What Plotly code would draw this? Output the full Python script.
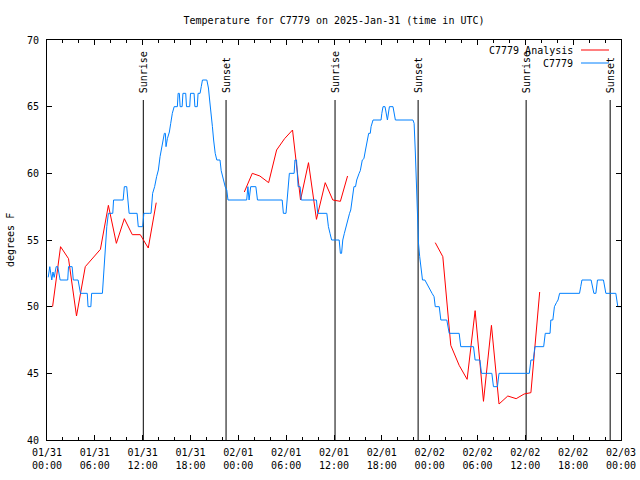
import plotly.graph_objects as go

# ---- data (hours since 2025-01-31 00:00 UTC) ----
obs_hours = [0.15, 0.35, 0.6, 0.75, 0.9, 1.15, 1.35, 1.5, 1.65, 2.6, 2.7, 3.15, 3.3, 3.9, 4.05, 4.2,
             5.05, 5.15, 5.5, 5.6, 6.95, 7.1, 7.3, 7.5, 7.7, 7.85, 8.25, 8.35, 9.55, 9.7, 10.0, 10.15,
             10.3, 11.3, 11.45, 12.0, 12.15, 12.9, 13.05, 13.25, 13.5, 13.75, 13.97, 14.18, 14.47,
             14.72, 14.85, 14.93, 15.1, 15.35, 15.52, 15.72, 15.95, 16.35, 16.45, 16.6, 16.7, 16.95,
             17.05, 17.4, 17.5, 17.9, 18.0, 18.45, 18.55, 18.85, 18.95, 19.2, 19.35, 19.5, 20.05,
             20.25, 20.4, 20.6, 20.75, 20.9, 21.1, 21.3, 21.7, 21.85, 22.1, 22.35, 22.55, 22.7,
             25.05, 25.2, 25.35, 25.55, 26.2, 26.4, 29.5, 29.65, 29.98, 30.15, 30.4, 31.0, 31.1,
             31.3, 31.5, 31.75, 31.9, 33.8, 33.95, 35.1, 35.3, 35.5, 35.7, 36.65, 36.8, 36.95, 37.1,
             37.3, 37.5, 37.7, 37.95, 38.1, 38.3, 38.5, 38.7, 38.85, 39.15, 39.3, 39.55, 39.75,
             39.95, 40.1, 40.35, 40.55, 40.65, 40.9, 41.9, 42.0, 42.15, 42.4, 42.55, 42.7, 42.85,
             42.95, 43.4, 43.55, 43.7, 45.9, 46.05, 46.2, 46.35, 46.5, 46.6, 46.75, 46.85, 46.95,
             47.1, 47.4, 47.6, 47.85, 48.05, 48.3, 48.55, 48.7, 49.2, 49.4, 50.15, 50.45, 51.7,
             51.9, 53.5, 53.7, 54.3, 54.5, 55.8, 56.0, 56.5, 56.7, 60.5, 60.7, 61.0, 61.2, 62.3,
             62.5, 63.1, 63.2, 63.45, 63.65, 63.9, 64.1, 64.3, 66.8, 66.95, 67.1, 68.25, 68.4,
             68.6, 68.85, 69.05, 69.8, 69.95, 70.1, 71.35, 71.5, 71.6, 72.0]
obs_temps = [52.2, 53.0, 52.0, 52.6, 52.2, 53.0, 53.0, 52.5, 52.0, 52.0, 53.0, 53.0, 52.0, 52.0, 51.6, 51.0,
             51.0, 50.0, 50.0, 51.0, 51.0, 52.5, 54.5, 56.0, 57.0, 57.0, 57.0, 58.0, 58.0, 59.0, 59.0, 58.0,
             57.0, 57.0, 56.0, 56.0, 57.0, 57.0, 57.0, 58.5, 59.0, 59.75, 60.25, 61.25, 62.25,
             63.0, 63.0, 62.0, 62.6, 63.1, 63.75, 64.5, 65.0, 65.0, 66.0, 66.0, 65.0, 65.0,
             66.0, 66.0, 65.0, 65.0, 66.0, 66.0, 65.0, 65.0, 66.0, 66.0, 66.5, 67.0, 67.0,
             66.4, 65.5, 64.5, 63.5, 62.5, 61.5, 61.0, 61.0, 60.2, 59.5, 59.0, 58.75, 58.0,
             58.0, 59.0, 58.0, 59.0, 59.0, 58.0, 58.0, 57.0, 57.0, 58.0, 60.0, 60.0, 61.0,
             61.0, 59.0, 59.0, 58.0, 58.0, 57.0, 57.0, 56.0, 55.5, 55.0, 55.0, 54.0, 54.0, 55.0,
             55.5, 56.0, 56.5, 57.0, 57.25, 58.0, 59.0, 59.0, 59.5, 60.0, 60.2, 61.0, 61.1,
             61.75, 62.25, 63.0, 63.0, 63.5, 64.0, 64.0, 64.5, 65.0, 65.0, 64.5, 64.0, 64.6,
             65.0, 65.0, 64.5, 64.0, 64.0, 63.75, 61.6, 58.75, 56.25, 54.75, 53.75, 53.25, 52.75,
             52.0, 52.0, 51.75, 51.5, 51.25, 51.0, 50.75, 50.0, 50.0, 49.0, 49.0, 48.0, 48.0,
             47.0, 47.0, 46.0, 46.0, 45.0, 45.0, 44.0, 44.0, 45.0, 45.0, 46.0, 46.0, 47.0, 47.0,
             48.0, 48.0, 49.0, 49.0, 50.0, 50.3, 50.5, 51.0, 51.0, 51.5, 52.0, 52.0, 51.5,
             51.0, 51.0, 52.0, 52.0, 51.5, 51.0, 51.0, 50.5, 50.0, 50.0]

ana_hours = [0.7, 1.7, 2.7, 3.7, 4.8, 5.7, 6.7, 7.7, 8.7, 9.7, 10.7, 11.7, 12.7, 13.7, None,
             24.75, 25.75, 26.7, 27.8, 28.8, 29.8, 30.8, 31.8, 32.8, 33.8, 34.9, 35.85, 36.8, 37.7, None,
             48.7, 49.65, 50.65, 51.7, 52.7, 53.7, 54.75, 55.75, 56.7, 57.8, 58.85, 59.85, 60.7, 61.8]
ana_temps = [50.0, 54.5, 53.6, 49.3, 53.0, 53.6, 54.3, 57.6, 54.75, 56.6, 55.4, 55.4, 54.4, 57.8, None,
             58.6, 60.0, 59.8, 59.3, 61.75, 62.6, 63.25, 58.0, 60.8, 56.55, 59.3, 58.0, 57.9, 59.8, None,
             54.8, 53.75, 47.1, 45.6, 44.55, 49.7, 42.9, 48.6, 42.7, 43.3, 43.1, 43.45, 43.55, 51.1]

event_hours = [12.08, 22.46, 36.13, 46.55, 60.1, 70.64]
event_labels = ["Sunrise", "Sunset", "Sunrise", "Sunset", "Sunrise", "Sunset"]

xtick_vals = [0, 6, 12, 18, 24, 30, 36, 42, 48, 54, 60, 66, 72]
xtick_text = ["01/31<br>00:00", "01/31<br>06:00", "01/31<br>12:00", "01/31<br>18:00",
              "02/01<br>00:00", "02/01<br>06:00", "02/01<br>12:00", "02/01<br>18:00",
              "02/02<br>00:00", "02/02<br>06:00", "02/02<br>12:00", "02/02<br>18:00",
              "02/03<br>00:00"]
xminor_vals = [h for h in range(0, 73, 2) if h % 6 != 0]

RED = "#ff0000"
BLUE = "#0080ff"
FONT = "DejaVu Sans Mono"

fig = go.Figure()
fig.add_trace(go.Scatter(x=ana_hours, y=ana_temps, mode="lines", name="C7779 Analysis",
                         line=dict(color=RED, width=1), connectgaps=False))
fig.add_trace(go.Scatter(x=obs_hours, y=obs_temps, mode="lines", name="C7779",
                         line=dict(color=BLUE, width=1)))

line_top = 65.5
for h, lab in zip(event_hours, event_labels):
    fig.add_shape(type="line", x0=h, x1=h, y0=40, y1=line_top, xref="x", yref="y",
                  line=dict(color="black", width=1), layer="below")
    fig.add_annotation(x=h, y=line_top, xref="x", yref="y", text=lab, textangle=-90,
                       showarrow=False, xanchor="center", yanchor="bottom", yshift=5,
                       font=dict(family=FONT, size=10, color="black"))

# legend (gnuplot style: text then sample line)
for name, col, ypx in [("C7779 Analysis", RED, 50), ("C7779", BLUE, 63)]:
    yp = (440 - ypx) / 400
    fig.add_annotation(x=(575 - 47) / 574, y=yp, xref="paper", yref="paper", text=name,
                       showarrow=False, xanchor="right", yanchor="middle",
                       font=dict(family=FONT, size=10, color="black"))
    fig.add_shape(type="line", xref="paper", yref="paper", x0=(581 - 47) / 574,
                  x1=(609 - 47) / 574, y0=yp, y1=yp, line=dict(color=col, width=1))

fig.add_annotation(x=(10 - 47) / 574, y=0.5, xref="paper", yref="paper", text="degrees F",
                   textangle=-90, showarrow=False, xanchor="center", yanchor="middle",
                   font=dict(family=FONT, size=10, color="black"))

fig.update_layout(
    width=640, height=480,
    margin=dict(l=47, r=19, t=40, b=40),
    paper_bgcolor="white", plot_bgcolor="white",
    showlegend=False,
    font=dict(family=FONT, size=10, color="black"),
    title=dict(text="Temperature for C7779 on 2025-Jan-31 (time in UTC)", x=0.5, xref="paper",
               xanchor="center", y=1 - 20 / 480, yanchor="middle",
               font=dict(family=FONT, size=10, color="black")),
)
fig.update_xaxes(range=[0, 72], tickmode="array", tickvals=xtick_vals, ticktext=xtick_text,
                 ticks="inside", ticklen=5, tickcolor="black", showgrid=False, zeroline=False,
                 showline=True, linecolor="black", linewidth=1, mirror="ticks",
                 ticklabelstandoff=3, automargin=False,
                 minor=dict(tickmode="array", tickvals=xminor_vals, ticks="inside", ticklen=3,
                            tickcolor="black", showgrid=False))
fig.update_yaxes(range=[40, 70], tickmode="linear", tick0=40, dtick=5,
                 ticks="inside", ticklen=5, tickcolor="black", showgrid=False, zeroline=False,
                 showline=True, linecolor="black", linewidth=1, mirror="ticks",
                 ticklabelstandoff=5, automargin=False)

fig.write_html("out.html", config={"displayModeBar": False},
               post_script="document.body.style.margin='0';document.body.style.overflow='hidden';")
